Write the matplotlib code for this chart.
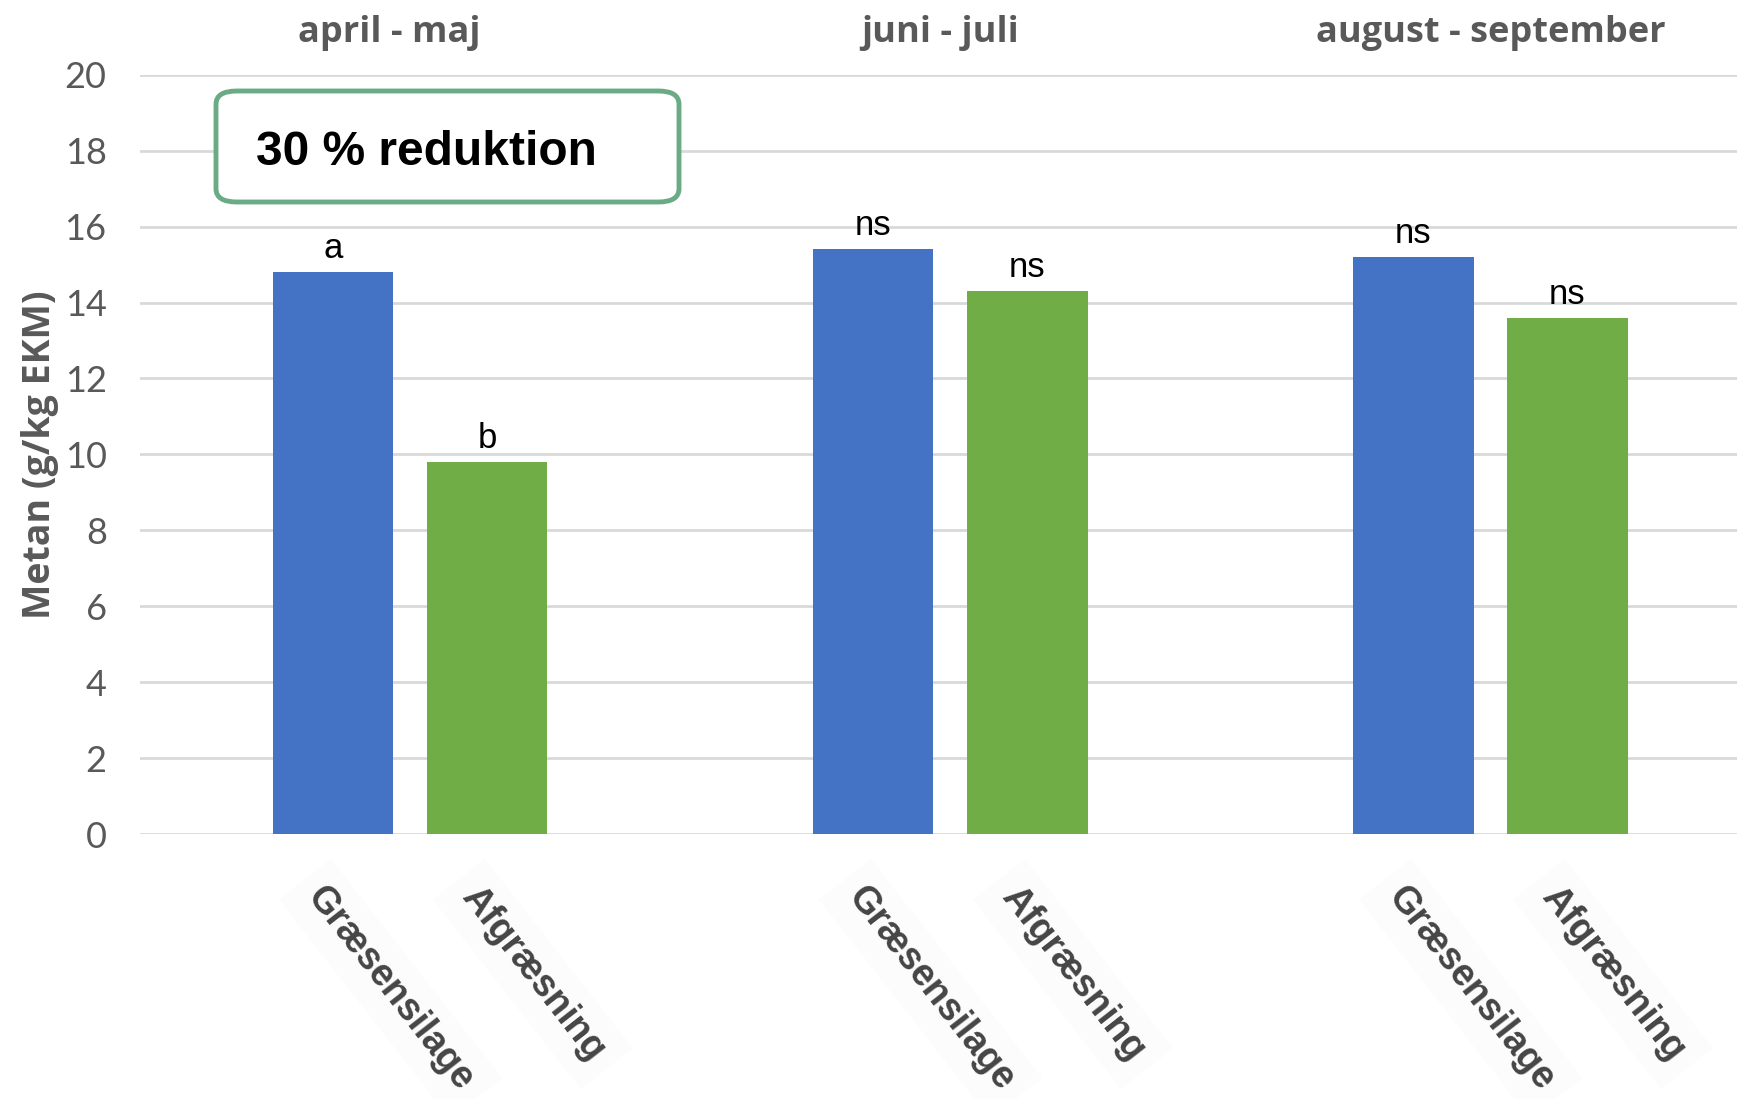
import matplotlib
matplotlib.use("Agg")
import matplotlib.pyplot as plt
from matplotlib.patches import FancyBboxPatch
import numpy as np

periods = ["april - maj", "juni - juli", "august - september"]
treatments = ["Græsensilage", "Afgræsning"]
graesensilage = [14.8, 15.4, 15.2]
afgraesning = [9.8, 14.3, 13.6]
labels_g = ["a", "ns", "ns"]
labels_a = ["b", "ns", "ns"]
yticks = [0, 2, 4, 6, 8, 10, 12, 14, 16, 18, 20]

fig = plt.figure(figsize=(17.37, 10.99), dpi=100)
ax = fig.add_axes([0.0806, 0.241, 0.9194, 0.691])

x = np.arange(len(periods))
w = 0.2236
off = 0.1426
blue = "#4472c4"
green = "#70ad47"
ax.bar(x - off, graesensilage, width=w, color=blue, zorder=3)
ax.bar(x + off, afgraesning, width=w, color=green, zorder=3)

ax.set_xlim(-0.5, 2.457)
ax.set_ylim(0, 20)
ax.set_yticks(yticks)
ax.yaxis.grid(True, color="#d9d9d9", lw=2, zorder=0)
ax.set_axisbelow(True)
for s in ax.spines.values():
    s.set_visible(False)
ax.tick_params(axis="y", length=0, pad=24, labelsize=26, labelcolor="#595959")
for t in ax.get_yticklabels():
    t.set_family("Lato")
ax.set_xticks([])

ax.set_ylabel("Metan (g/kg EKM)", fontsize=27, fontweight="bold", color="#595959",
              family="Open Sans", labelpad=4)

# significance letters
for i in range(len(periods)):
    ax.annotate(labels_g[i], (x[i] - off, graesensilage[i]), xytext=(0, 5),
                textcoords="offset points", ha="center", va="bottom",
                fontsize=25, family="Liberation Sans", color="black")
    ax.annotate(labels_a[i], (x[i] + off, afgraesning[i]), xytext=(0, 5),
                textcoords="offset points", ha="center", va="bottom",
                fontsize=25, family="Liberation Sans", color="black")

# period headers
header_shift = [-0.039, -0.018, 0.002]
for i, p in enumerate(periods):
    ax.text(x[i] + header_shift[i], 1.055, p, transform=ax.get_xaxis_transform(), ha="center",
            va="center", fontsize=26, fontweight="bold", color="#595959", family="Open Sans")

# rotated category labels
for i in range(len(periods)):
    for j, (pos, name) in enumerate([(x[i] - off, treatments[0]), (x[i] + off, treatments[1])]):
        ax.text(pos - 0.035, -0.075, name, transform=ax.get_xaxis_transform(),
                rotation=-52, rotation_mode="anchor", ha="left", va="center",
                fontsize=27, fontweight="bold", color="#454545", family="Liberation Sans",
                bbox=dict(boxstyle="square,pad=0.4", fc="#fcfcfc", ec="none"))

# reduction box
box = FancyBboxPatch((216 / 1737, 1 - 202 / 1099), (679 - 216) / 1737, (202 - 91) / 1099,
                     boxstyle="round,pad=0,rounding_size=0.012", transform=fig.transFigure,
                     fc="white", ec="#6aaa85", lw=3.5, zorder=5)
fig.patches.append(box)
fig.text(256 / 1737, 1 - 152 / 1099, "30 % reduktion", ha="left", va="center",
         fontsize=34.5, fontweight="bold", family="Liberation Sans", color="black", zorder=6)

fig.savefig("out.png", dpi=100, facecolor="white")
